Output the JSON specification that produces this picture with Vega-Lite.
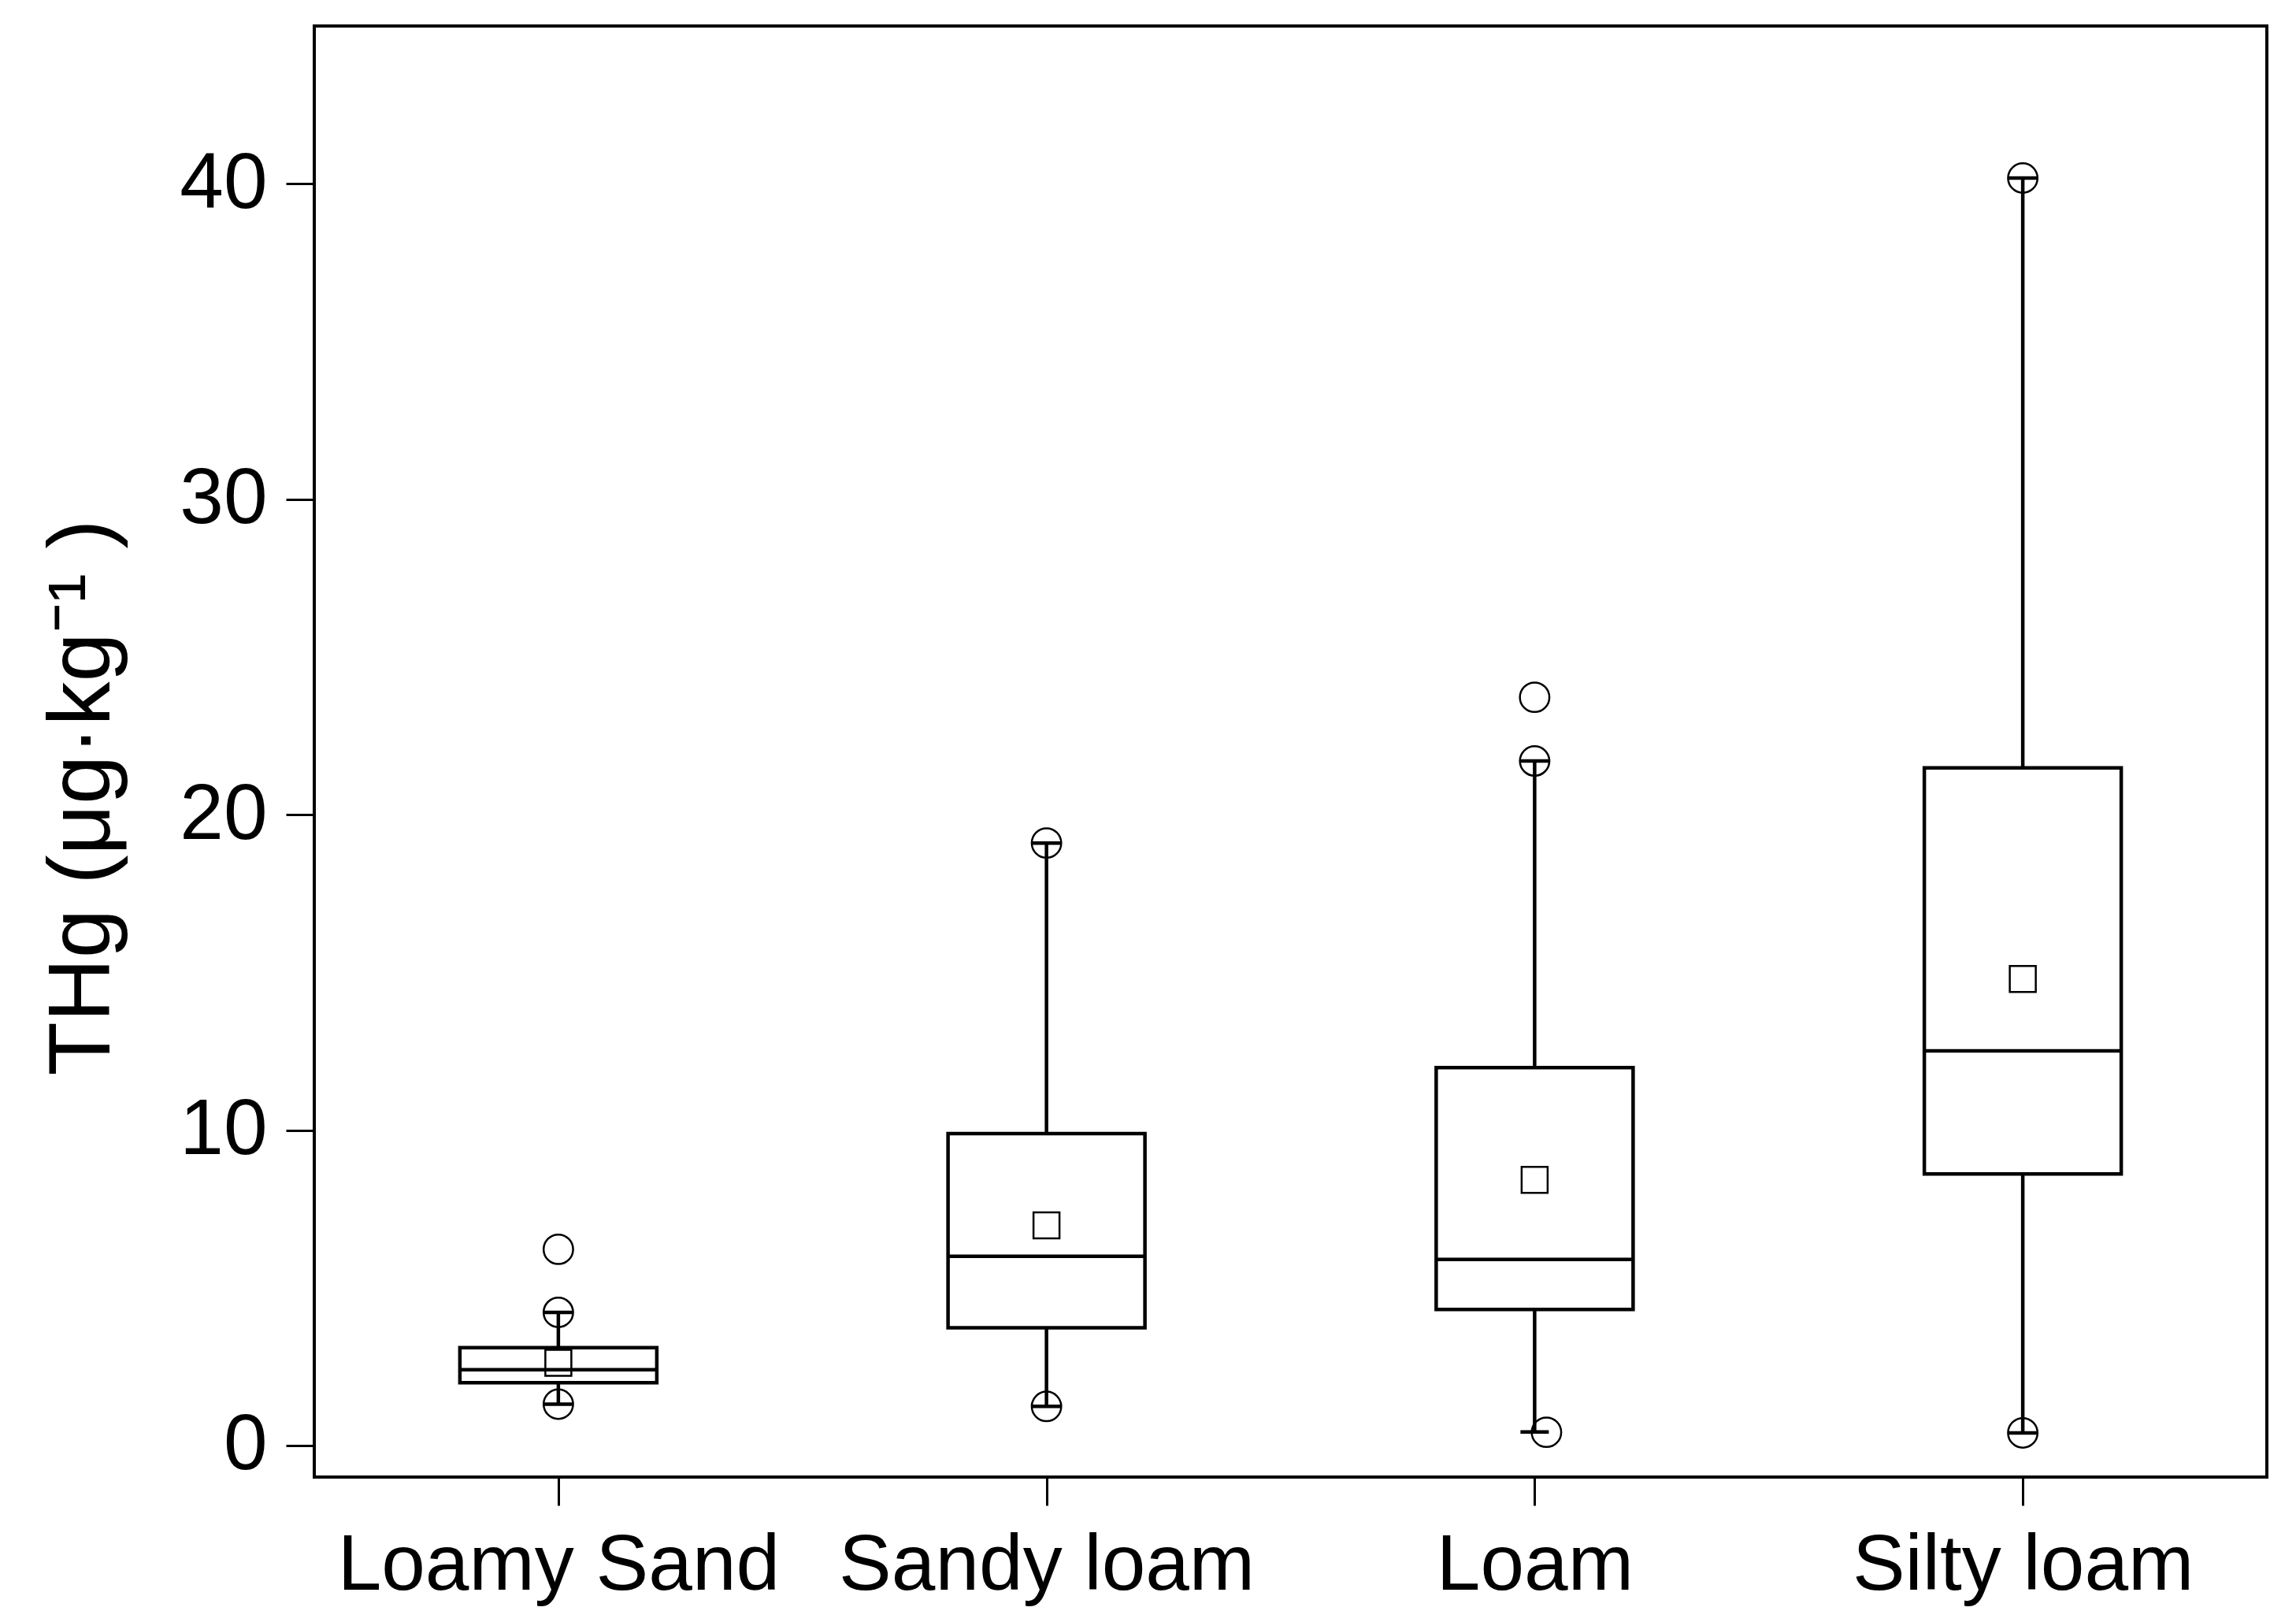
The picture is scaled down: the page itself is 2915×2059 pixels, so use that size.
{
  "$schema": "https://vega.github.io/schema/vega-lite/v6.json",
  "autosize": {"type": "none"},
  "padding": {"left": 399, "top": 33, "right": 37, "bottom": 184},
  "width": 2479,
  "height": 1842,
  "background": "white",
  "config": {
    "view": {"stroke": "black", "strokeWidth": 4},
    "font": "Liberation Sans",
    "axis": {"grid": false, "domain": false, "tickColor": "black", "tickWidth": 3, "tickSize": 36, "labelColor": "black", "labelFont": "Liberation Sans", "labelFontSize": 100, "labelLimit": 0, "labelOverlap": false, "titleFont": "Liberation Sans", "titleColor": "black"}
  },
  "datasets": {
    "stats": [
      {"soil": "Loamy Sand", "wlo": 1.31, "q1": 1.99, "med": 2.40, "q3": 3.10, "whi": 4.22, "mean": 2.62},
      {"soil": "Sandy loam", "wlo": 1.24, "q1": 3.73, "med": 6.00, "q3": 9.89, "whi": 19.10, "mean": 6.98},
      {"soil": "Loam", "wlo": 0.43, "q1": 4.31, "med": 5.90, "q3": 11.98, "whi": 21.70, "mean": 8.42},
      {"soil": "Silty loam", "wlo": 0.40, "q1": 8.61, "med": 12.51, "q3": 21.48, "whi": 40.18, "mean": 14.79}
    ],
    "pts": [
      {"soil": "Loamy Sand", "value": 6.22},
      {"soil": "Loamy Sand", "value": 4.22},
      {"soil": "Loamy Sand", "value": 1.31},
      {"soil": "Sandy loam", "value": 19.10},
      {"soil": "Sandy loam", "value": 1.24},
      {"soil": "Loam", "value": 23.72},
      {"soil": "Loam", "value": 21.70},
      {"soil": "Loam", "value": 0.42},
      {"soil": "Silty loam", "value": 40.18},
      {"soil": "Silty loam", "value": 0.40}
    ]
  },
  "encoding": {
    "x": {
      "field": "soil", "type": "nominal",
      "sort": ["Loamy Sand", "Sandy loam", "Loam", "Silty loam"],
      "scale": {"type": "point", "padding": 0.5},
      "axis": {"title": null, "labelAngle": 0, "labelPadding": 27, "labelBaseline": "top", "labelAlign": "center"}
    }
  },
  "layer": [
    {
      "data": {"name": "stats"},
      "mark": {"type": "rule", "color": "black", "strokeWidth": 4.5},
      "encoding": {
        "y": {"field": "wlo", "type": "quantitative", "scale": {"domain": [-1, 45], "nice": false, "zero": false},
          "axis": {"values": [0, 10, 20, 30, 40], "labelPadding": 24, "title": "THg (μg·kg⁻¹ )", "titleFontSize": 112, "titleFontWeight": "normal", "titleAngle": 270, "titleAlign": "center", "titleBaseline": "alphabetic", "titleX": -261, "titleY": 979}},
        "y2": {"field": "whi"}
      }
    },
    {
      "data": {"name": "stats"},
      "mark": {"type": "bar", "size": 250, "fill": "white", "stroke": "black", "strokeWidth": 4.5},
      "encoding": {
        "y": {"field": "q1", "type": "quantitative"},
        "y2": {"field": "q3"}
      }
    },
    {
      "data": {"name": "stats"},
      "mark": {"type": "tick", "size": 250, "thickness": 4.5, "color": "black", "opacity": 1},
      "encoding": {"y": {"field": "med", "type": "quantitative"}}
    },
    {
      "data": {"name": "stats"},
      "mark": {"type": "tick", "size": 36, "thickness": 4.5, "color": "black", "opacity": 1},
      "encoding": {"y": {"field": "wlo", "type": "quantitative"}}
    },
    {
      "data": {"name": "stats"},
      "mark": {"type": "tick", "size": 36, "thickness": 4.5, "color": "black", "opacity": 1},
      "encoding": {"y": {"field": "whi", "type": "quantitative"}}
    },
    {
      "data": {"name": "stats"},
      "mark": {"type": "point", "shape": "square", "size": 1089, "filled": false, "stroke": "black", "strokeWidth": 2.5, "opacity": 1},
      "encoding": {"y": {"field": "mean", "type": "quantitative"}}
    },
    {
      "data": {"name": "pts"},
      "transform": [{"filter": "!(datum.soil == 'Loam' && datum.value < 1)"}],
      "mark": {"type": "point", "shape": "circle", "size": 1400, "filled": false, "stroke": "black", "strokeWidth": 2.5, "opacity": 1},
      "encoding": {"y": {"field": "value", "type": "quantitative"}}
    },
    {
      "data": {"name": "pts"},
      "transform": [{"filter": "datum.soil == 'Loam' && datum.value < 1"}],
      "mark": {"type": "point", "shape": "circle", "size": 1400, "filled": false, "stroke": "black", "strokeWidth": 2.5, "opacity": 1, "xOffset": 15},
      "encoding": {"y": {"field": "value", "type": "quantitative"}}
    }
  ]
}
